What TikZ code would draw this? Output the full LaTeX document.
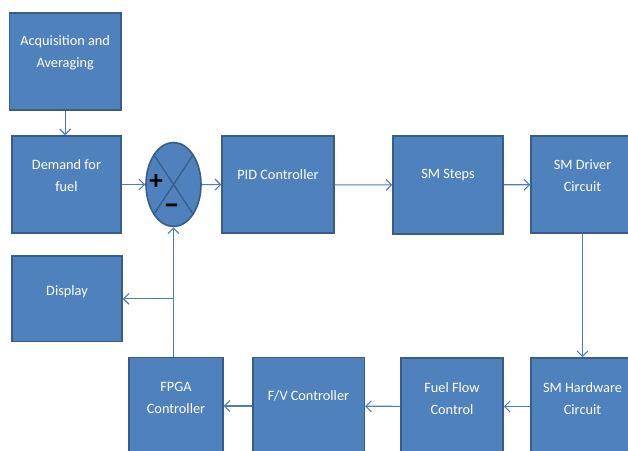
\documentclass[tikz,border=0pt]{standalone}
\usepackage{fontspec}
\setmainfont{Carlito}
\usepackage{tikz}
\usetikzlibrary{positioning,arrows.meta,shapes.geometric}

\definecolor{boxfill}{HTML}{4F81BD}
\definecolor{boxedge}{HTML}{385D8A}
\definecolor{wire}{HTML}{4A7EBB}

\begin{document}
\begin{tikzpicture}[x=1pt,y=-1pt,
  blk/.style={draw=boxedge,fill=boxfill,line width=1.6pt,inner sep=0pt},
  txt/.style={text=white,align=center,inner sep=0pt,
    font=\fontsize{14.3}{22}\selectfont},
  sign/.style={text=black,inner sep=0pt,font=\fontsize{27}{27}\selectfont\bfseries},
  arr/.style={draw=wire,line width=1.1pt,-{Straight Barb[length=5.5pt,width=11pt]}}]
  \useasboundingbox (0,0) rectangle (628,450);
  \clip (0,0) rectangle (628,450);
  % left column
  \node[blk,minimum width=111.5pt,minimum height=97pt] (acq) at (65.2,61.5) {};
  \node[txt] (acqtxt) at ([yshift=9pt]acq.center) {Acquisition and\\Averaging};
  \node[blk,minimum width=109pt,minimum height=97pt] (dem) at (66.5,184.5) {};
  \node[txt] (demtxt) at ([yshift=9pt]dem.center) {Demand for\\fuel};
  \node[blk,minimum width=110pt,minimum height=85.5pt] (disp) at (67,298.8) {};
  \node[txt] (disptxt) at ([yshift=7pt]disp.center) {Display};
  % summing junction
  \node[blk,ellipse,minimum width=55pt,minimum height=84pt] (sum) at (173.5,184.5) {};
  \draw[boxedge,line width=1.3pt] (sum.north west) -- (sum.south east)
    (sum.north east) -- (sum.south west);
  \node[sign] (plus) at ([shift={(-17.5,-2.5)}]sum.center) {+};
  \node[sign,font=\fontsize{32}{32}\selectfont\bfseries] (minus)
    at ([shift={(-2,24.5)}]sum.center) {--};
  % top row
  \node[blk,minimum width=111.7pt,minimum height=97pt] (pid) at (278,184.7) {};
  \node[txt] (pidtxt) at ([yshift=10pt]pid.center) {PID Controller};
  \node[blk,minimum width=110pt,minimum height=98pt] (steps) at (448,185) {};
  \node[txt] (stepstxt) at ([yshift=10pt]steps.center) {SM Steps};
  \node[blk,minimum width=103pt,minimum height=97pt] (drv) at (582.5,184.5) {};
  \node[txt] (drvtxt) at ([yshift=9pt]drv.center) {SM Driver\\Circuit};
  % bottom row
  \node[blk,minimum width=103pt,minimum height=97pt] (hw) at (582.5,406.5) {};
  \node[txt] (hwtxt) at ([yshift=8pt]hw.center) {SM Hardware\\Circuit};
  \node[blk,minimum width=102pt,minimum height=97pt] (flow) at (452,406.5) {};
  \node[txt] (flowtxt) at ([yshift=8pt]flow.center) {Fuel Flow\\Control};
  \node[blk,minimum width=111.6pt,minimum height=97pt] (fv) at (308.5,406) {};
  \node[txt] (fvtxt) at ([yshift=10pt]fv.center) {F/V Controller};
  \node[blk,minimum width=93.7pt,minimum height=97pt] (fpga) at (176,406) {};
  \node[txt] (fpgatxt) at ([yshift=8pt]fpga.center) {FPGA\\Controller};
  % connectors
  \draw[arr] (acq.south) -- (acq.south |- dem.north);
  \draw[arr] (dem) -- (sum);
  \draw[arr] (sum) -- (pid);
  \draw[arr] (pid) -- (steps);
  \draw[arr] (steps) -- (drv);
  \draw[arr] (drv) -- (hw);
  \draw[arr] (hw) -- (flow);
  \draw[arr] (flow) -- (fv);
  \draw[arr] (fv) -- (fpga);
  \draw[arr] (fpga.north -| sum.south) -- (sum.south);
  \coordinate (tap) at (sum.south |- disp.east);
  \draw[arr] (tap) -- (disp.east);
\end{tikzpicture}
\end{document}
